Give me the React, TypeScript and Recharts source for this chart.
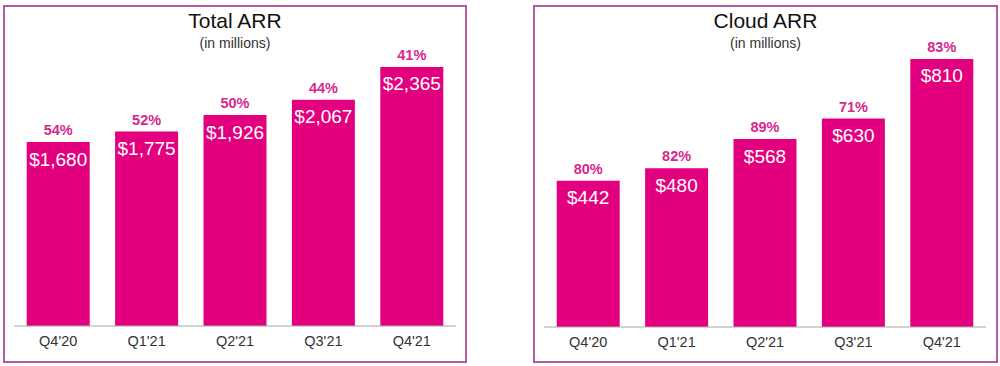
import { Bar, BarChart, LabelList, XAxis, YAxis } from 'recharts'

const quarters = ["Q4'20", "Q1'21", "Q2'21", "Q3'21", "Q4'21"]
const totalArr = [1680, 1775, 1926, 2067, 2365]
const totalGrowth = [54, 52, 50, 44, 41]
const cloudArr = [442, 480, 568, 630, 810]
const cloudGrowth = [80, 82, 89, 71, 83]

const BAR = '#e2007e'
const PCT = '#d6278c'
const FONT = '"Liberation Sans", Arial, sans-serif'

const fmtMoney = (v: number) => '$' + v.toLocaleString('en-US')

interface PanelProps {
  title: string
  values: number[]
  growth: number[]
  left: number
  top: number
  bottom: number
  boxLeft: number
  boxWidth: number
}

function Panel({ title, values, growth, left, top, bottom, boxLeft, boxWidth }: PanelProps) {
  const rows = quarters.map((q, i) => ({ q, value: values[i], pct: growth[i] + '%' }))
  const max = Math.max(...values)
  const centerX = boxLeft + boxWidth / 2
  return (
    <>
      <div
        style={{
          position: 'absolute',
          left: boxLeft,
          top: 5,
          width: boxWidth,
          height: 358,
          boxSizing: 'border-box',
          border: '2px solid #b35ca3'
        }}
      />
      <div
        style={{
          position: 'absolute',
          left: centerX - 150,
          width: 300,
          top: 8,
          textAlign: 'center',
          fontFamily: FONT,
          color: '#111',
          fontSize: 21,
          lineHeight: '26px'
        }}
      >
        {title}
      </div>
      <div
        style={{
          position: 'absolute',
          left: centerX - 150,
          width: 300,
          top: 35,
          textAlign: 'center',
          fontFamily: FONT,
          color: '#333',
          fontSize: 14,
          lineHeight: '16px'
        }}
      >
        (in millions)
      </div>
      <div style={{ position: 'absolute', left, top: 0 }}>
        <BarChart
          width={470}
          height={366}
          data={rows}
          margin={{ top, right: 14, left: 14, bottom: 10 }}
          barCategoryGap={12.7}
        >
          <XAxis
            dataKey="q"
            height={366 - bottom - 10}
            tickLine={false}
            axisLine={{ stroke: '#a6a6a6', strokeWidth: 1 }}
            tick={{ fill: '#333', fontSize: 14.5, fontFamily: FONT }}
            tickMargin={4}
          />
          <YAxis hide domain={[0, max]} />
          <Bar dataKey="value" fill={BAR} isAnimationActive={false}>
            <LabelList
              dataKey="pct"
              position="top"
              offset={7}
              fill={PCT}
              fontSize={14.5}
              fontWeight="bold"
              fontFamily={FONT}
            />
            <LabelList
              dataKey="value"
              position="insideTop"
              offset={10}
              formatter={(v: any) => fmtMoney(Number(v))}
              fill="#fff"
              fontSize={19}
              fontFamily={FONT}
            />
          </Bar>
        </BarChart>
      </div>
    </>
  )
}

export default function App() {
  return (
    <div
      style={{
        position: 'absolute',
        left: 0,
        top: 0,
        width: 1000,
        height: 366,
        background: '#fff',
        overflow: 'hidden'
      }}
    >
      <Panel
        title="Total ARR"
        values={totalArr}
        growth={totalGrowth}
        left={0}
        top={67}
        bottom={326}
        boxLeft={3}
        boxWidth={464}
      />
      <Panel
        title="Cloud ARR"
        values={cloudArr}
        growth={cloudGrowth}
        left={530}
        top={59}
        bottom={327}
        boxLeft={533}
        boxWidth={465}
      />
    </div>
  )
}
